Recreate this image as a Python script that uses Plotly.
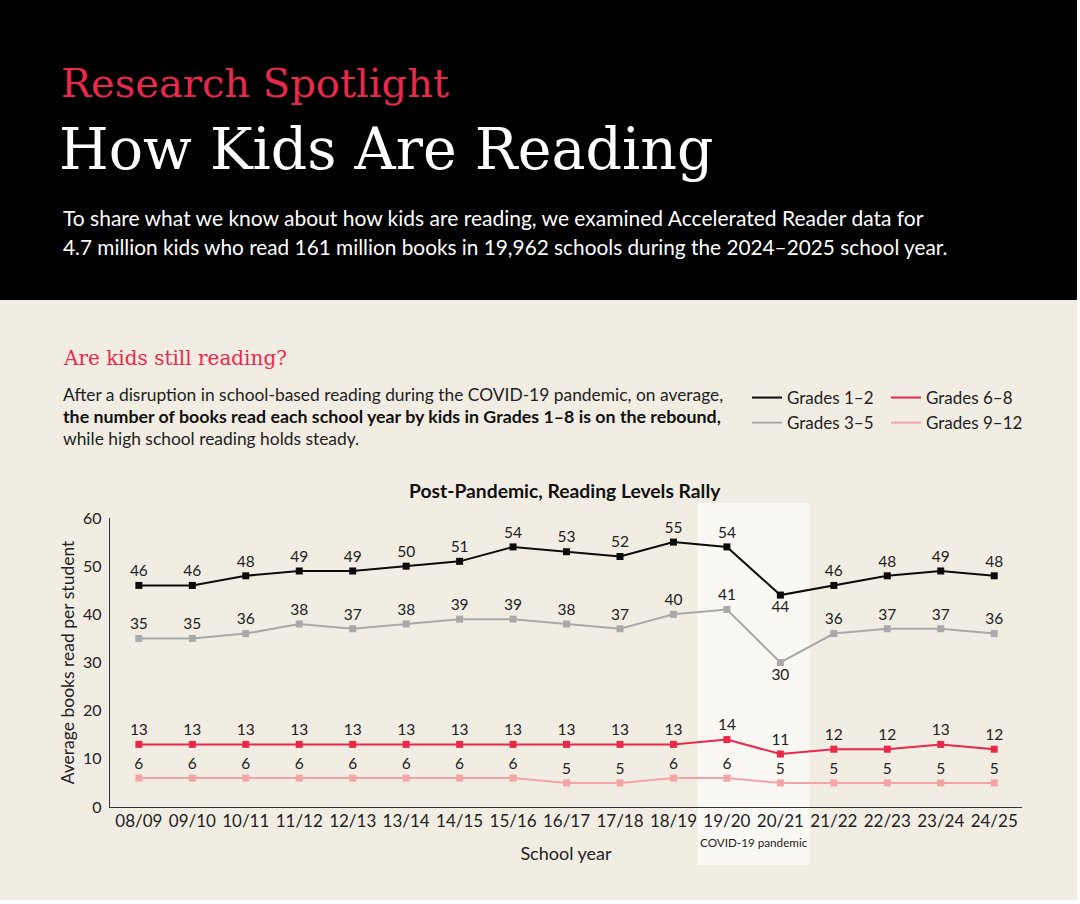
import plotly.graph_objects as go

# ---------------- data ----------------
school_years = ["08/09", "09/10", "10/11", "11/12", "12/13", "13/14", "14/15", "15/16",
                "16/17", "17/18", "18/19", "19/20", "20/21", "21/22", "22/23", "23/24", "24/25"]
grades_1_2 = [46, 46, 48, 49, 49, 50, 51, 54, 53, 52, 55, 54, 44, 46, 48, 49, 48]
grades_3_5 = [35, 35, 36, 38, 37, 38, 39, 39, 38, 37, 40, 41, 30, 36, 37, 37, 36]
grades_6_8 = [13, 13, 13, 13, 13, 13, 13, 13, 13, 13, 13, 14, 11, 12, 12, 13, 12]
grades_9_12 = [6, 6, 6, 6, 6, 6, 6, 6, 5, 5, 6, 6, 5, 5, 5, 5, 5]
series_names = ["Grades 1–2", "Grades 3–5", "Grades 6–8", "Grades 9–12"]
pandemic_years = ["19/20", "20/21"]
y_ticks = [0, 10, 20, 30, 40, 50, 60]

# ---------------- styling ----------------
W, H = 1080, 904
ML, MR, MT, MB = 110, 58, 518, 97
PW, PH = W - ML - MR, H - MT - MB

BLACK = "#0b0b0b"
GRAY = "#a9a9a9"
CRIMSON = "#e8294c"
PINK = "#f4a3a6"
BEIGE = "#f1ede3"
BAND = "#faf8f3"
TEXT = "#222222"
SANS = "Lato"
SERIF = "DejaVu Serif"


def X(px):
    return (px - ML) / PW


def Y(py):
    return 1 + (MT - py) / PH


xi = list(range(len(school_years)))
band_idx = [school_years.index(s) for s in pandemic_years]

fig = go.Figure()

colors = [BLACK, GRAY, CRIMSON, PINK]
values = [grades_1_2, grades_3_5, grades_6_8, grades_9_12]
legends = ["legend", "legend", "legend2", "legend2"]

for name, vals, col, lg in zip(series_names, values, colors, legends):
    tpos = []
    for i, v in enumerate(vals):
        if school_years[i] == "20/21" and name in ("Grades 1–2", "Grades 3–5"):
            tpos.append("bottom center")
        else:
            tpos.append("top center")
    fig.add_trace(go.Scatter(
        x=xi, y=vals, mode="lines", name=name,
        line=dict(color=col, width=2), legend=lg, hoverinfo="skip",
    ))
    fig.add_trace(go.Scatter(
        x=xi, y=vals, mode="markers+text", name=name, showlegend=False,
        marker=dict(symbol="square", size=7, color=col),
        text=[str(v) for v in vals], textposition=tpos,
        textfont=dict(family=SANS, size=15.5, color=TEXT),
        cliponaxis=False,
    ))

shapes = [
    dict(type="rect", xref="paper", yref="paper", x0=X(0), x1=X(1077), y0=Y(300), y1=Y(-2),
         fillcolor="#000000", line=dict(width=0), layer="below"),
    dict(type="rect", xref="paper", yref="paper", x0=X(0), x1=X(1077), y0=Y(900), y1=Y(300),
         fillcolor=BEIGE, line=dict(width=0), layer="below"),
    dict(type="rect", xref="x", yref="paper", x0=band_idx[0] - 0.55, x1=band_idx[-1] + 0.55,
         y0=Y(865), y1=Y(503), fillcolor=BAND, line=dict(width=0), layer="below"),
]

annotations = [
    dict(text="Research Spotlight", x=X(59), y=Y(83), xref="paper", yref="paper",
         xanchor="left", yanchor="middle", showarrow=False,
         font=dict(family=SERIF, size=40, color=CRIMSON)),
    dict(text="How Kids Are Reading", x=X(57), y=Y(149), xref="paper", yref="paper",
         xanchor="left", yanchor="middle", showarrow=False,
         font=dict(family=SERIF, size=57, color="#ffffff")),
    dict(text="To share what we know about how kids are reading, we examined Accelerated Reader data for",
         x=X(61), y=Y(217), xref="paper", yref="paper", xanchor="left", yanchor="middle",
         showarrow=False, font=dict(family=SANS, size=21, color="#ffffff")),
    dict(text="4.7 million kids who read 161 million books in 19,962 schools during the 2024–2025 school year.",
         x=X(61), y=Y(246), xref="paper", yref="paper", xanchor="left", yanchor="middle",
         showarrow=False, font=dict(family=SANS, size=20.8, color="#ffffff")),
    dict(text="Are kids still reading?", x=X(61), y=Y(358), xref="paper", yref="paper",
         xanchor="left", yanchor="middle", showarrow=False,
         font=dict(family=SERIF, size=20, color=CRIMSON)),
    dict(text="After a disruption in school-based reading during the COVID-19 pandemic, on average,",
         x=X(61), y=Y(394), xref="paper", yref="paper", xanchor="left", yanchor="middle",
         showarrow=False, font=dict(family=SANS, size=17.4, color=TEXT)),
    dict(text="<b>the number of books read each school year by kids in Grades 1–8 is on the rebound,</b>",
         x=X(61), y=Y(416), xref="paper", yref="paper", xanchor="left", yanchor="middle",
         showarrow=False, font=dict(family=SANS, size=17.8, color="#111111")),
    dict(text="while high school reading holds steady.",
         x=X(61), y=Y(438), xref="paper", yref="paper", xanchor="left", yanchor="middle",
         showarrow=False, font=dict(family=SANS, size=17.4, color=TEXT)),
    dict(text="<b>Post-Pandemic, Reading Levels Rally</b>", x=X(565), y=Y(490), xref="paper", yref="paper",
         xanchor="center", yanchor="middle", showarrow=False,
         font=dict(family=SANS, size=19.3, color="#111111")),
    dict(text="COVID-19 pandemic", x=(band_idx[0] + band_idx[-1]) / 2, y=Y(842), xref="x", yref="paper",
         xanchor="center", yanchor="middle", showarrow=False,
         font=dict(family=SANS, size=11.7, color=TEXT)),
]

fig.update_layout(
    width=W, height=H,
    margin=dict(l=ML, r=MR, t=MT, b=MB, pad=0),
    paper_bgcolor="#ffffff",
    plot_bgcolor="rgba(0,0,0,0)",
    font=dict(family=SANS, color=TEXT),
    shapes=shapes,
    annotations=annotations,
    showlegend=True,
    legend=dict(x=X(747), y=Y(380), xanchor="left", yanchor="top", orientation="v",
                bgcolor="rgba(0,0,0,0)", font=dict(family=SANS, size=17, color=TEXT),
                tracegroupgap=0, itemclick=False, itemdoubleclick=False),
    legend2=dict(x=X(886), y=Y(380), xanchor="left", yanchor="top", orientation="v",
                 bgcolor="rgba(0,0,0,0)", font=dict(family=SANS, size=17, color=TEXT),
                 tracegroupgap=0, itemclick=False, itemdoubleclick=False),
    xaxis=dict(
        range=[-0.54, len(school_years) - 1 + 0.52],
        tickmode="array", tickvals=xi, ticktext=school_years,
        showgrid=False, zeroline=False, showline=True, linecolor="#333333", linewidth=1.3,
        ticks="", tickfont=dict(family=SANS, size=17, color=TEXT),
        ticklabelstandoff=-2,
        title=dict(text="School year", font=dict(family=SANS, size=18, color=TEXT), standoff=17),
        fixedrange=True,
    ),
    yaxis=dict(
        range=[0, 60], tickmode="array", tickvals=y_ticks,
        showgrid=False, zeroline=False, showline=True, linecolor="#333333", linewidth=1.3,
        ticks="", tickfont=dict(family=SANS, size=16, color=TEXT),
        ticklabelstandoff=4,
        title=dict(text="Average books read per student", font=dict(family=SANS, size=17.5, color=TEXT),
                   standoff=3),
        fixedrange=True,
    ),
)

fig.write_html("out.html", post_script="document.body.style.margin='0';",
               config={"displayModeBar": False})
